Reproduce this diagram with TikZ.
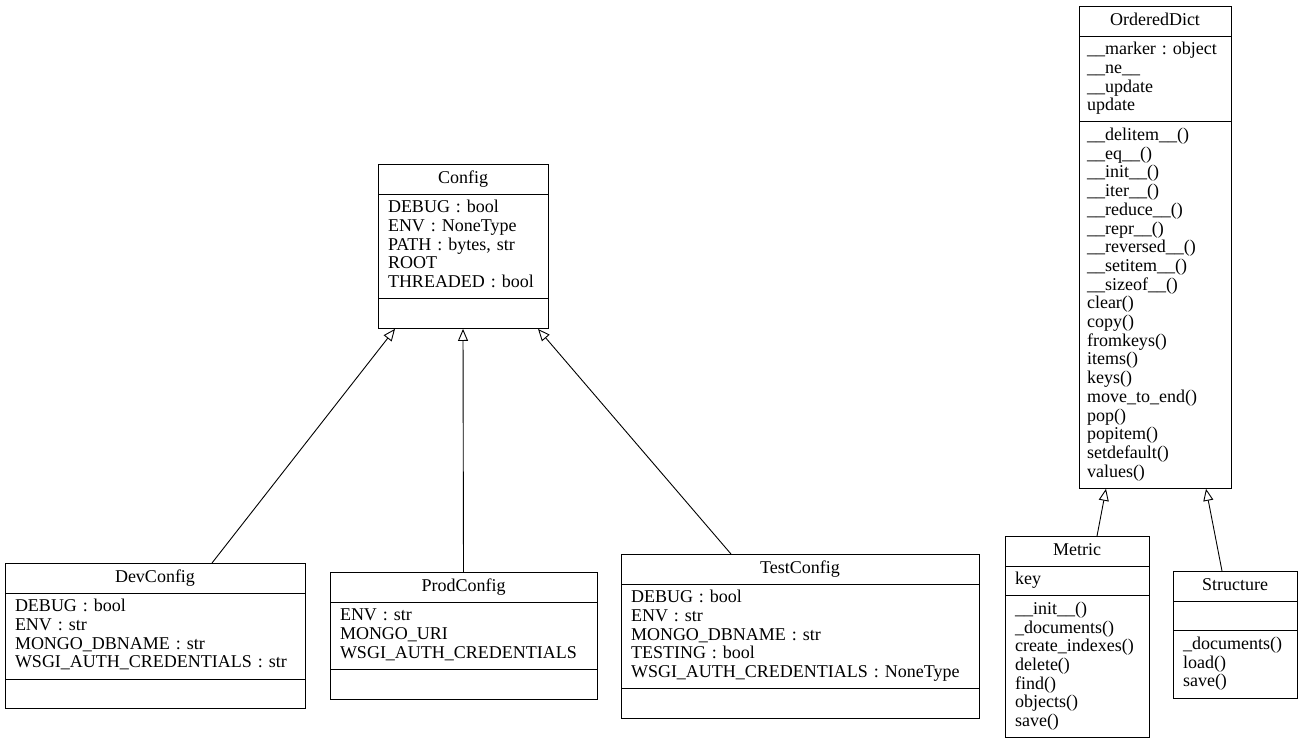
\documentclass[tikz,border=0pt]{standalone}
\usepackage{fontspec}
\setmainfont{Liberation Serif}
\usetikzlibrary{shapes.multipart,arrows.meta}
\begin{document}
\begin{tikzpicture}[x=1pt,y=-1pt]
        \tikzstyle{umlclass}=[rectangle split,rectangle split parts=3,draw=black,line width=1pt,anchor=north,inner xsep=10pt,inner ysep=5pt,align=left,font=\fontsize{18}{18.7}\selectfont\frenchspacing]
        \tikzstyle{inherit}=[draw,line width=0.9pt,-{Triangle[open,length=12pt,width=10pt]}]
        \useasboundingbox (0,0) rectangle (1303,741);

        % base classes
        \node [umlclass,text width=150pt] (config) at (463,164) {\hbox to\hsize{\hfil\strut Config\hfil}
          \nodepart{two}\strut DEBUG : bool\\ENV : NoneType\\PATH : bytes, str\\ROOT\\THREADED : bool\strut
          \nodepart{three}\strut};
        \node [umlclass,text width=136pt,inner xsep=8pt] (ordereddict) at (1155,6) {\hbox to\hsize{\hfil\strut OrderedDict\hfil}
          \nodepart{two}\strut \mbox{\_\_marker : object}\\\_\_ne\_\_\\\_\_update\\update\strut
          \nodepart{three}\strut \_\_delitem\_\_()\\\_\_eq\_\_()\\\_\_init\_\_()\\\_\_iter\_\_()\\\_\_reduce\_\_()\\\_\_repr\_\_()\\\_\_reversed\_\_()\\\_\_setitem\_\_()\\\_\_sizeof\_\_()\\clear()\\copy()\\fromkeys()\\items()\\keys()\\move\_to\_end()\\pop()\\popitem()\\setdefault()\\values()\strut};

        % config classes
        \node [umlclass,text width=280pt] (devconfig) at (155,563) {\hbox to\hsize{\hfil\strut DevConfig\hfil}
          \nodepart{two}\strut DEBUG : bool\\ENV : str\\MONGO\_DBNAME : str\\WSGI\_AUTH\_CREDENTIALS : str\strut
          \nodepart{three}\strut};
        \node [umlclass,text width=247pt] (prodconfig) at (463.5,572) {\hbox to\hsize{\hfil\strut ProdConfig\hfil}
          \nodepart{two}\strut ENV : str\\MONGO\_URI\\WSGI\_AUTH\_CREDENTIALS\strut
          \nodepart{three}\strut};
        \node [umlclass,text width=338pt] (testconfig) at (800,554) {\hbox to\hsize{\hfil\strut TestConfig\hfil}
          \nodepart{two}\strut DEBUG : bool\\ENV : str\\MONGO\_DBNAME : str\\TESTING : bool\\WSGI\_AUTH\_CREDENTIALS : NoneType\strut
          \nodepart{three}\strut};

        % document classes
        \node [umlclass,text width=124pt] (metric) at (1077,536) {\hbox to\hsize{\hfil\strut Metric\hfil}
          \nodepart{two}\strut key\strut
          \nodepart{three}\strut \_\_init\_\_()\\\_documents()\\create\_indexes()\\delete()\\find()\\objects()\\save()\strut};
        \node [umlclass,text width=104pt] (structure) at (1235,571) {\hbox to\hsize{\hfil\strut Structure\hfil}
          \nodepart{two}\strut
          \nodepart{three}\strut \_documents()\\load()\\save()\strut};

        \path[inherit] ([xshift=57pt]devconfig.north) -- ([xshift=-68pt]config.south);
        \path[inherit] (prodconfig.north) -- (config.south);
        \path[inherit] ([xshift=-69pt]testconfig.north) -- ([xshift=75pt]config.south);
        \path[inherit] ([xshift=20pt]metric.north) -- ([xshift=-49pt]ordereddict.south);
        \path[inherit] ([xshift=-13pt]structure.north) -- ([xshift=51pt]ordereddict.south);
      \end{tikzpicture}
\end{document}
